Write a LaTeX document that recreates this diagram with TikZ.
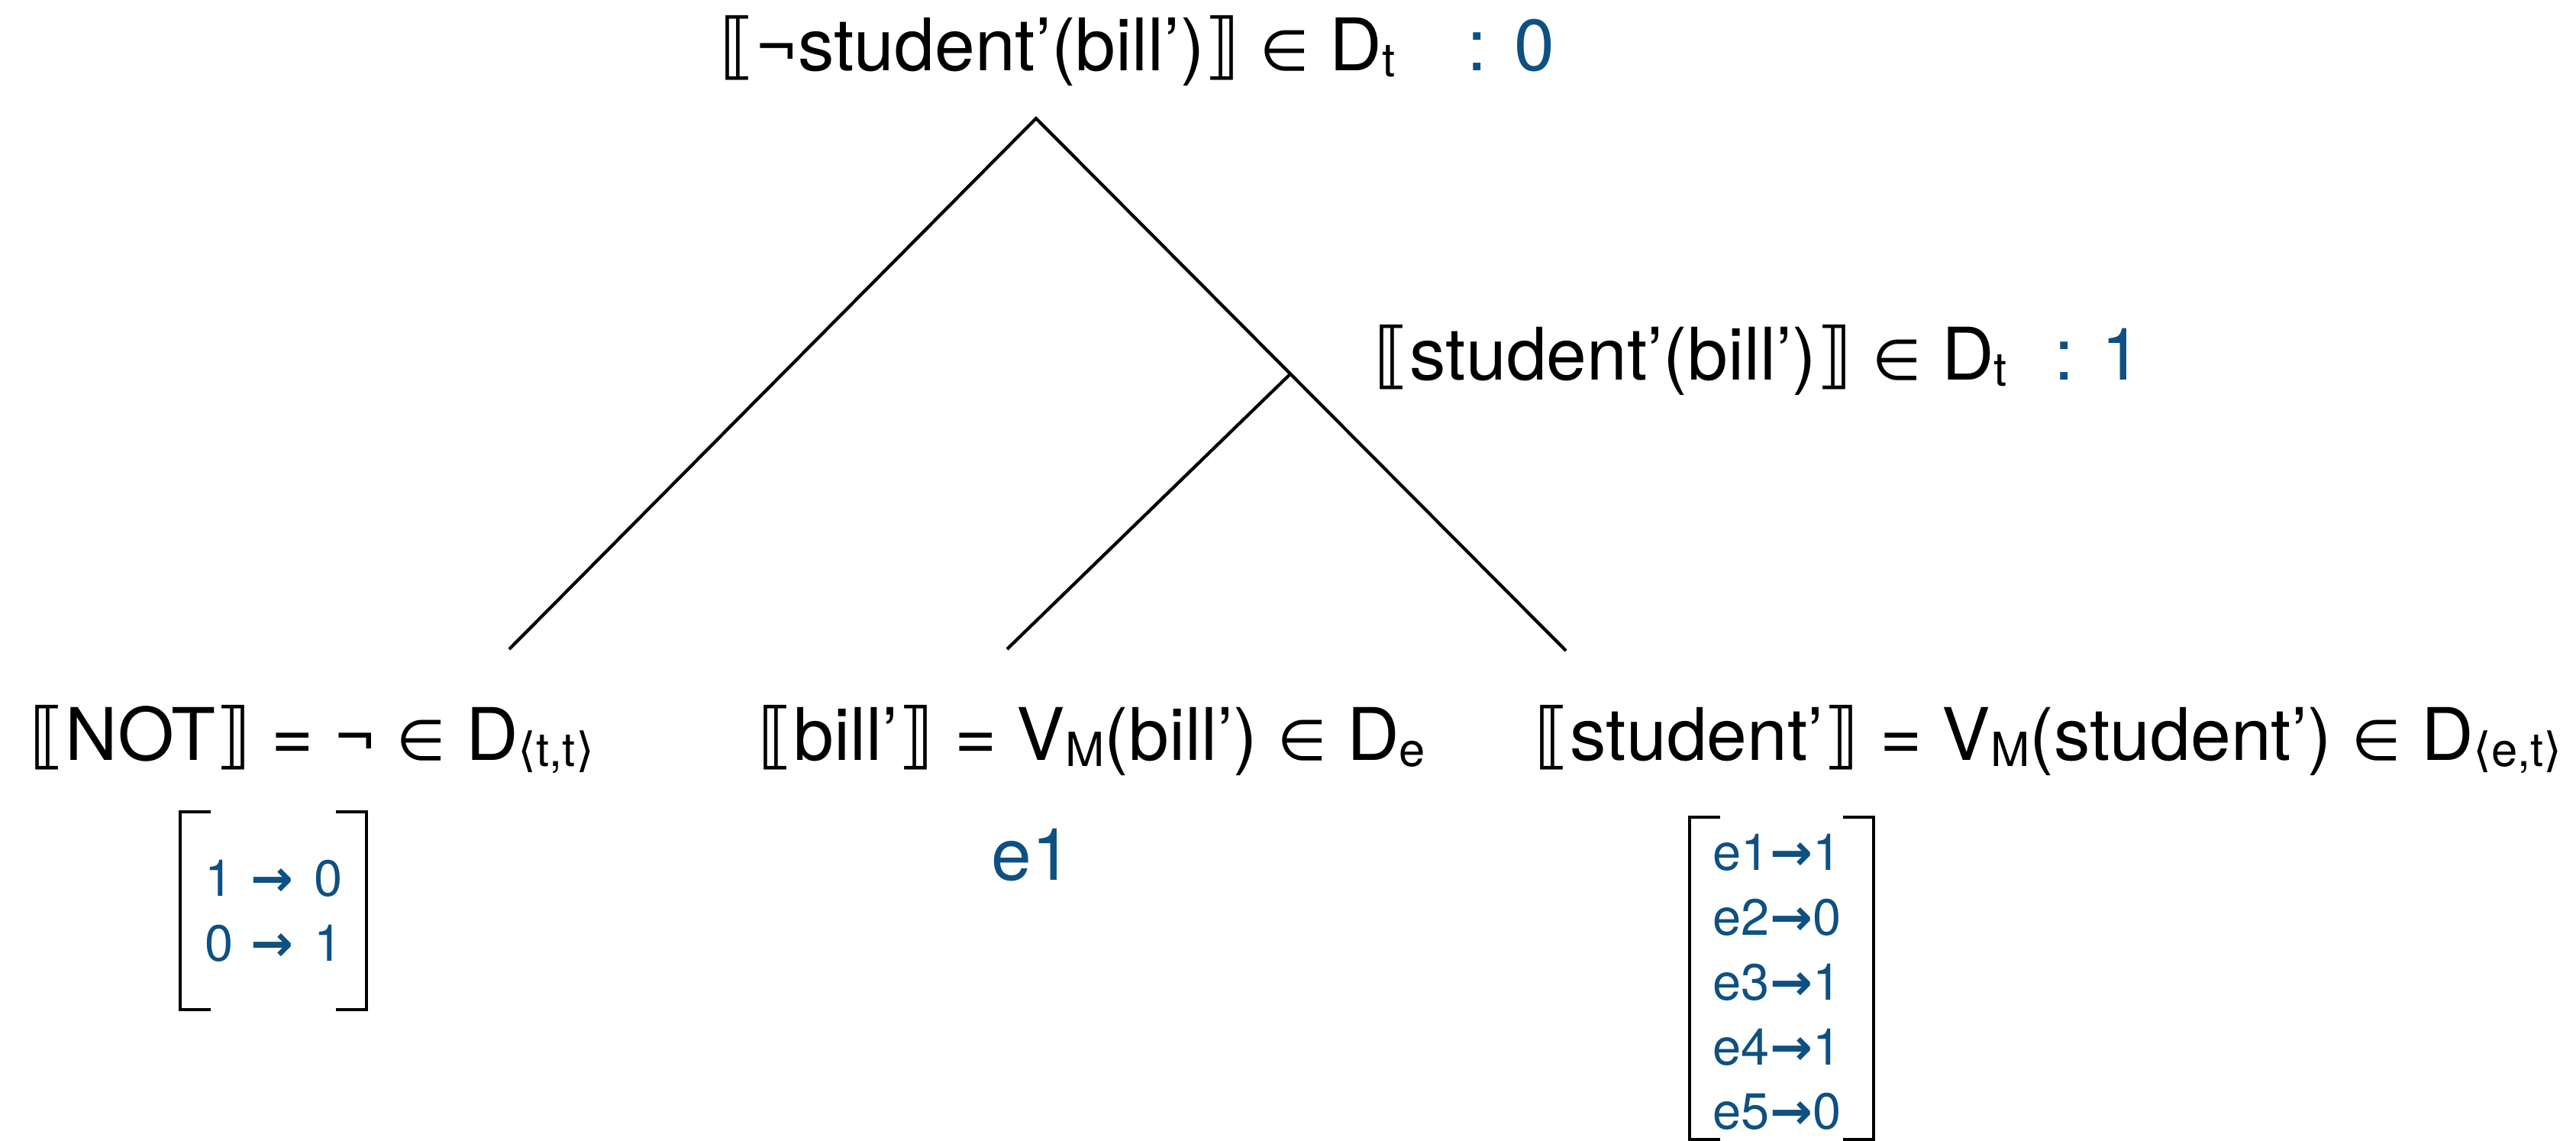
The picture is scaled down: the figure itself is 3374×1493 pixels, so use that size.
\documentclass[tikz,border=0pt]{standalone}
\usepackage{fontspec}
\setmainfont{TeX Gyre Heros}
\newfontfamily\symf{DejaVu Sans}
\newfontfamily\arrf{DejaVu Sans Bold}
\usetikzlibrary{calc}
\definecolor{valblue}{RGB}{14,80,130}
\newcommand\lbr{{\symf ⟦}}
\newcommand\rbr{{\symf ⟧}}
\newcommand\elem{{\fontsize{21}{24}\selectfont\symf ∈}}
\newcommand\subs[1]{\raisebox{-0.09em}{\fontsize{17.5}{20}\selectfont #1}}
\newcommand\angsub[1]{\subs{{\symf ⟨}#1{\symf ⟩}}}
\newcommand\arr{{\arrf →}}
\begin{document}
\begin{tikzpicture}[x=0.01cm,y=-0.01cm,
  lbl/.style={anchor=base west, inner sep=0pt, font=\fontsize{27}{32}\selectfont},
  val/.style={lbl, text=valblue},
  entry/.style={anchor=base west, inner sep=0pt, text=valblue, font=\fontsize{19}{22}\selectfont},
  branch/.style={line width=1.2pt},
  brk/.style={line width=1.4pt}]
\useasboundingbox (0,0) rectangle (3374,1493);
% labels
\node[lbl] (top) at (942,92) {\lbr¬student’(bill’)\rbr\ \elem\ D\subs{t}};
\node[val] (topv) at (1921,92) {: 0};
\node[lbl] (mid) at (1799,497) {\lbr student’(bill’)\rbr\ \elem\ D\subs{t}};
\node[val] (midv) at (2690,497) {: 1};
\node[lbl] (notl) at (38,995) {\lbr NOT\rbr\ = ¬ \elem\ D\angsub{t,t}};
\node[lbl] (billl) at (992,995) {\lbr bill’\rbr\ = V\subs{M}(bill’) \elem\ D\subs{e}};
\node[lbl] (studl) at (2009,995) {\lbr student’\rbr\ = V\subs{M}(student’) \elem\ D\angsub{e,t}};
% tree
\coordinate (root) at (1357,155);
\coordinate (notT) at (667,850);
\coordinate (billT) at (1319,850);
\coordinate (studT) at (2051,852);
\coordinate (midT) at ($(root)!0.48!(studT)$);
\draw[branch] (notT) -- (root) -- (studT);
\draw[branch] (billT) -- (midT);
% NOT matrix
\node[entry] (n1) at (268,1173) {1\hspace{6.5pt}\arr\hspace{7.5pt}0};
\node[entry] (n2) at (268,1258) {0\hspace{6.5pt}\arr\hspace{7.5pt}1};
\draw[brk] (276,1063) -- (236,1063) -- (236,1322) -- (276,1322);
\draw[brk] (440,1063) -- (480,1063) -- (480,1322) -- (440,1322);
% bill value
\node[val] (e1) at (1298,1152) {e1};
% student matrix
\node[entry] (s1) at (2243,1139) {e1\arr1};
\node[entry] (s2) at (2243,1224) {e2\arr0};
\node[entry] (s3) at (2243,1309) {e3\arr1};
\node[entry] (s4) at (2243,1394) {e4\arr1};
\node[entry] (s5) at (2243,1478) {e5\arr0};
\draw[brk] (2253,1070) -- (2213,1070) -- (2213,1492) -- (2253,1492);
\draw[brk] (2414,1070) -- (2454,1070) -- (2454,1492) -- (2414,1492);
\end{tikzpicture}
\end{document}
